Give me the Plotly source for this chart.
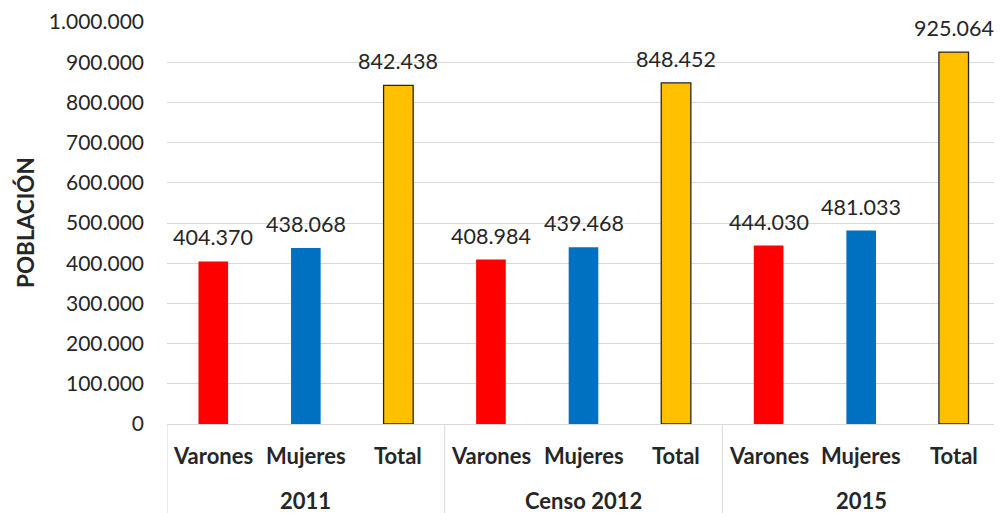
import plotly.graph_objects as go

# Datos
periodos = ["2011", "Censo 2012", "2015"]
categorias = ["Varones", "Mujeres", "Total"]
varones = [404370, 408984, 444030]
mujeres = [438068, 439468, 481033]
total = [842438, 848452, 925064]

y_ticks = list(range(0, 1000001, 100000))

series = {"Varones": varones, "Mujeres": mujeres, "Total": total}
colores = {"Varones": "#FF0000", "Mujeres": "#0070C0", "Total": "#FFC000"}
bordes = {"Varones": 0, "Mujeres": 0, "Total": 1.3}

FONT = "Lato, Calibri, sans-serif"
TXT = "#262626"
GRIS = "#D9D9D9"

n_cat = len(categorias)
n_per = len(periodos)

# area de trazado (px) -- la pagina añade 8px de margen al body
PW, PH = 833, 402

fig = go.Figure()
for k, cat in enumerate(categorias):
    xs = [g * n_cat + k for g in range(n_per)]
    fig.add_trace(go.Bar(
        x=xs,
        y=series[cat],
        name=cat,
        width=0.32,
        marker=dict(color=colores[cat], line=dict(color=TXT, width=bordes[cat])),
    ))
    # etiquetas de datos
    for x, v in zip(xs, series[cat]):
        fig.add_annotation(
            x=x, y=v, text=f"{v:,}".replace(",", "."),
            showarrow=False, yanchor="bottom", yshift=9,
            font=dict(family=FONT, size=21.5, color=TXT),
        )

# etiquetas del eje de categorías (dos niveles)
for g, per in enumerate(periodos):
    for k, cat in enumerate(categorias):
        fig.add_annotation(
            x=g * n_cat + k, y=-31 / PH, xref="x", yref="paper",
            text=f"<b>{cat}</b>", showarrow=False, yanchor="middle",
            font=dict(family=FONT, size=22, color=TXT),
        )
    fig.add_annotation(
        x=g * n_cat + (n_cat - 1) / 2, y=-76 / PH, xref="x", yref="paper",
        text=f"<b>{per}</b>", showarrow=False, yanchor="middle",
        font=dict(family=FONT, size=22, color=TXT),
    )

# divisores entre grupos
for g in range(n_per + 1):
    xd = g * n_cat - 0.5
    fig.add_shape(
        type="line", xref="x", yref="paper",
        x0=xd, x1=xd, y0=0, y1=-95 / PH,
        line=dict(color=GRIS, width=1),
    )

fig.update_layout(
    width=1002, height=513,
    barmode="overlay",
    showlegend=False,
    plot_bgcolor="white",
    paper_bgcolor="white",
    margin=dict(l=159, r=1002 - 159 - PW, t=14, b=513 - 14 - PH),
    font=dict(family=FONT, color=TXT),
)

fig.update_yaxes(
    range=[0, 1000000],
    tickvals=y_ticks,
    ticktext=[f"{v:,}".replace(",", ".") for v in y_ticks],
    showgrid=True,
    gridcolor=GRIS,
    zeroline=False,
    showline=False,
    automargin=False,
    ticklabelstandoff=22,
    tickfont=dict(family=FONT, size=21, color=TXT),
)

fig.update_xaxes(
    range=[-0.5, n_per * n_cat - 0.5],
    showticklabels=False,
    showgrid=False,
    zeroline=False,
    showline=True,
    linecolor=GRIS,
    automargin=False,
)

fig.add_annotation(
    text="<b>POBLACIÓN</b>",
    xref="paper", yref="paper",
    x=(25 - 167) / PW, y=0.5,
    xanchor="center", yanchor="middle",
    textangle=-90,
    showarrow=False,
    font=dict(family=FONT, size=22.5, color=TXT),
)

fig.write_html("out.html")
